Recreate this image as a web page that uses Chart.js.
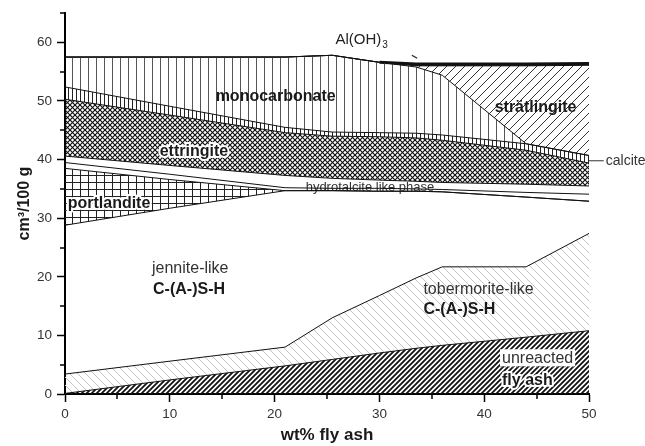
<!DOCTYPE html>
<html>
<head>
<meta charset="utf-8">
<script src="https://cdn.jsdelivr.net/npm/chart.js@4.4.1/dist/chart.umd.min.js"></script>
<style>
  html, body { margin: 0; padding: 0; background: #fff; }
  #wrap { width: 645px; height: 446px; position: relative; }
</style>
</head>
<body>
<div id="wrap"><canvas id="phases"></canvas></div>
<script>
// wt% fly ash at which the phase volumes were read
const flyAsh = [0, 10, 21, 25.5, 30, 33.5, 36, 44, 50];

// phase volumes (cm3/100 g), stacked bottom -> top
const unreacted     = [0.1, 2.4, 4.8, 5.9, 7.0, 7.8, 8.3, 9.7, 10.8];
const tobermorite   = [3.3, 3.2, 3.2, 7.1, 9.8, 12.0, 13.4, 12.0, 16.6];
const jennite       = [25.4, 26.1, 26.7, 21.7, 17.8, 14.8, 12.8, 11.9, 5.5];
const portlandite   = [9.7, 4.9, 0, 0, 0, 0, 0, 0, 0];
const minorPhase    = [1.0, 0.9, 0.5, 0.4, 0.5, 0.4, 0.4, 0.8, 1.2];
const hydrotalcite  = [1.1, 1.5, 2.1, 1.7, 1.4, 1.3, 1.2, 1.4, 1.4];
const ettringite    = [9.7, 8.6, 7.3, 7.2, 7.4, 7.4, 7.2, 5.8, 3.9];
const calcite       = [2.1, 1.5, 0.9, 0.7, 0.7, 0.8, 0.9, 1.1, 1.3];
const monocarbonate = [5.1, 8.4, 12.0, 13.1, 12.0, 11.3, 10.2, 0, 0];
const stratlingite  = [0, 0, 0, 0, 0, 0.2, 1.6, 13.3, 15.4];
const aluminiumHydroxide = [0, 0, 0, 0, 0, 0.3, 0.3, 0.3, 0.3];

const xTicks = [0, 10, 20, 30, 40, 50];
const yTicks = [0, 10, 20, 30, 40, 50, 60];
const xMinor = [5, 15, 25, 35, 45];
const yMinor = [5, 15, 25, 35, 45, 55, 65];

const canvas = document.getElementById('phases');
const ctx = canvas.getContext('2d');
const FONT = "'Liberation Sans', Arial, Helvetica, sans-serif";

// hatch patterns
function tile(w, h, draw) {
  const c = document.createElement('canvas');
  c.width = w; c.height = h;
  const g = c.getContext('2d');
  draw(g, w, h);
  return ctx.createPattern(c, 'repeat');
}
function slash(g, s) {
  g.beginPath();
  g.moveTo(0, s); g.lineTo(s, 0);
  g.moveTo(-1, 1); g.lineTo(1, -1);
  g.moveTo(s - 1, s + 1); g.lineTo(s + 1, s - 1);
  g.stroke();
}
function backslash(g, s) {
  g.beginPath();
  g.moveTo(0, 0); g.lineTo(s, s);
  g.moveTo(-1, s - 1); g.lineTo(1, s + 1);
  g.moveTo(s - 1, -1); g.lineTo(s + 1, 1);
  g.stroke();
}

const pat = {
  flyAsh: tile(5, 5, (g, s) => { g.strokeStyle = '#111'; g.lineWidth = 1.8; slash(g, s); }),
  tober: tile(8, 8, (g, s) => { g.strokeStyle = '#c4c4c4'; g.lineWidth = 1; backslash(g, s); }),
  port: tile(8, 7, (g, w, h) => {
    g.strokeStyle = '#222'; g.lineWidth = 1;
    g.beginPath(); g.moveTo(0.5, 0); g.lineTo(0.5, h); g.moveTo(0, 0.5); g.lineTo(w, 0.5); g.stroke();
  }),
  ettr: tile(5, 5, (g, s) => { g.strokeStyle = '#111'; g.lineWidth = 1.15; slash(g, s); backslash(g, s); }),
  calc: tile(4, 4, (g, w, h) => {
    g.strokeStyle = '#222'; g.lineWidth = 1;
    g.beginPath(); g.moveTo(0.5, 0); g.lineTo(0.5, h); g.stroke();
  }),
  mono: tile(8, 8, (g, w, h) => {
    g.strokeStyle = '#555'; g.lineWidth = 1;
    g.beginPath(); g.moveTo(0.5, 0); g.lineTo(0.5, h); g.stroke();
  }),
  strat: tile(9, 9, (g, s) => { g.strokeStyle = '#333'; g.lineWidth = 1; slash(g, s); }),
};

const none = 'rgba(0,0,0,0)';
const layers = [
  { name: 'unreacted fly ash', values: unreacted, fill: pat.flyAsh },
  { name: 'tobermorite-like C-(A-)S-H', values: tobermorite, fill: pat.tober },
  { name: 'jennite-like C-(A-)S-H', values: jennite, fill: none },
  { name: 'portlandite', values: portlandite, fill: pat.port },
  { name: 'minor phase', values: minorPhase, fill: none },
  { name: 'hydrotalcite like phase', values: hydrotalcite, fill: none },
  { name: 'ettringite', values: ettringite, fill: pat.ettr },
  { name: 'calcite', values: calcite, fill: pat.calc },
  { name: 'monocarbonate', values: monocarbonate, fill: pat.mono },
  { name: 'strätlingite', values: stratlingite, fill: pat.strat },
  { name: 'Al(OH)3', values: aluminiumHydroxide, fill: '#000' },
];

// text written onto the areas (data coordinates)
const notes = [
  { text: 'monocarbonate', x: 20.1, y: 50.8, bold: true, align: 'center' },
  { text: 'strätlingite', x: 44.9, y: 48.9, bold: true, align: 'center' },
  { text: 'ettringite', x: 12.3, y: 41.3, bold: true, align: 'center', halo: true },
  { text: 'portlandite', x: 4.2, y: 32.5, bold: true, align: 'center', halo: true },
  { text: 'jennite-like', x: 8.3, y: 21.4, align: 'left' },
  { text: 'C-(A-)S-H', x: 8.4, y: 17.9, bold: true, align: 'left' },
  { text: 'tobermorite-like', x: 34.2, y: 17.8, align: 'left' },
  { text: 'C-(A-)S-H', x: 34.2, y: 14.4, bold: true, align: 'left' },
  { text: 'unreacted', x: 41.7, y: 6.1, align: 'left', box: true },
  { text: 'fly ash', x: 41.7, y: 2.35, bold: true, align: 'left', halo: true },
  { text: 'calcite', x: 51.6, y: 39.8, align: 'left', size: 14, lead: 50 },
];

const labelPlugin = {
  id: 'phaseLabels',
  beforeDatasetsDraw(chart) {
    const { ctx: c, scales: { x, y } } = chart;
    c.save();
    c.font = '13px ' + FONT;
    c.fillStyle = '#333';
    c.textAlign = 'center';
    c.textBaseline = 'middle';
    c.fillText('hydrotalcite like phase', x.getPixelForValue(29.1), y.getPixelForValue(35.3));
    c.restore();
  },
  afterDraw(chart) {
    const { ctx: c, scales: { x, y }, chartArea: area } = chart;
    c.save();
    // minor ticks
    c.strokeStyle = '#000';
    c.lineWidth = 1.5;
    c.beginPath();
    for (const v of xMinor) {
      const px = Math.round(x.getPixelForValue(v));
      c.moveTo(px, area.bottom); c.lineTo(px, area.bottom + 5);
    }
    for (const v of yMinor) {
      const py = Math.round(y.getPixelForValue(v));
      c.moveTo(area.left, py); c.lineTo(area.left - 5, py);
    }
    c.stroke();

    c.textBaseline = 'middle';
    for (const n of notes) {
      const px = x.getPixelForValue(n.x), py = y.getPixelForValue(n.y);
      c.font = (n.bold ? 'bold ' : '') + (n.size || 16) + 'px ' + FONT;
      c.textAlign = n.align;
      const w = c.measureText(n.text).width;
      if (n.box) {
        c.fillStyle = '#fff';
        c.fillRect(px - 2, py - 9, w + 4, 17);
        c.strokeStyle = '#999';
        c.lineWidth = 1;
        c.setLineDash([2, 2]);
        c.beginPath(); c.moveTo(px - 2, py + 8.5); c.lineTo(px + w + 2, py + 8.5); c.stroke();
        c.setLineDash([]);
      }
      if (n.halo) {
        c.strokeStyle = '#fff';
        c.lineWidth = 4;
        c.lineJoin = 'round';
        c.strokeText(n.text, px, py);
      }
      if (n.lead !== undefined) {
        c.strokeStyle = '#333';
        c.lineWidth = 1;
        c.beginPath(); c.moveTo(x.getPixelForValue(n.lead), py); c.lineTo(px - 2, py); c.stroke();
      }
      c.fillStyle = n.bold ? '#1a1a1a' : '#333';
      c.fillText(n.text, px, py);
    }
    // Al(OH)3 with subscript and its small pointer
    const ax = x.getPixelForValue(25.8), ay = y.getPixelForValue(59.7);
    c.font = '15px ' + FONT;
    c.textAlign = 'left';
    c.textBaseline = 'alphabetic';
    c.fillStyle = '#222';
    c.fillText('Al(OH)', ax, ay);
    const aw = c.measureText('Al(OH)').width;
    c.font = '10px ' + FONT;
    c.fillText('3', ax + aw + 1, ay + 4);
    c.strokeStyle = '#222';
    c.lineWidth = 1.2;
    c.beginPath();
    c.moveTo(x.getPixelForValue(33.1), y.getPixelForValue(57.8));
    c.lineTo(x.getPixelForValue(33.6), y.getPixelForValue(57.3));
    c.stroke();
    c.restore();
  },
};

new Chart(ctx, {
  type: 'line',
  data: {
    datasets: layers.map((l, i) => ({
      label: l.name,
      data: flyAsh.map((v, k) => ({ x: v, y: l.values[k] })),
      backgroundColor: l.fill,
      borderColor: '#111',
      borderWidth: 1,
      pointRadius: 0,
      tension: 0,
      fill: i === 0 ? 'origin' : '-1',
      segment: i === layers.length - 1
        ? { borderWidth: s => (s.p0DataIndex >= 4 ? 3 : 1) }
        : undefined,
    })),
  },
  options: {
    responsive: true,
    maintainAspectRatio: false,
    animation: false,
    layout: { padding: { left: 0, right: 56, top: 7, bottom: 0 } },
    plugins: { legend: { display: false }, tooltip: { enabled: false } },
    scales: {
      x: {
        type: 'linear',
        min: 0,
        max: 50,
        afterFit: s => { s.height = 52; },
        afterBuildTicks: s => { s.ticks = xTicks.map(v => ({ value: v })); },
        ticks: {
          autoSkip: false,
          maxRotation: 0,
          padding: 4,
          color: '#333',
          font: { family: FONT, size: 13.5 },
        },
        grid: { drawOnChartArea: false, tickLength: 8, tickWidth: 1.5, color: '#000' },
        border: { color: '#000', width: 2 },
        title: {
          display: true,
          text: 'wt% fly ash',
          color: '#1a1a1a',
          font: { family: FONT, size: 17, weight: 'bold' },
          padding: { top: 0, bottom: 0 },
        },
      },
      y: {
        stacked: true,
        min: 0,
        max: 65,
        afterFit: s => { s.width = 65; },
        afterBuildTicks: s => { s.ticks = yTicks.map(v => ({ value: v })); },
        ticks: {
          autoSkip: false,
          padding: 5,
          color: '#333',
          font: { family: FONT, size: 13.5 },
        },
        grid: { drawOnChartArea: false, tickLength: 8, tickWidth: 1.5, color: '#000' },
        border: { color: '#000', width: 2 },
        title: {
          display: true,
          text: 'cm³/100 g',
          color: '#1a1a1a',
          font: { family: FONT, size: 16, weight: 'bold' },
          padding: { top: 15, bottom: 0 },
        },
      },
    },
  },
  plugins: [labelPlugin],
});
</script>
</body>
</html>
